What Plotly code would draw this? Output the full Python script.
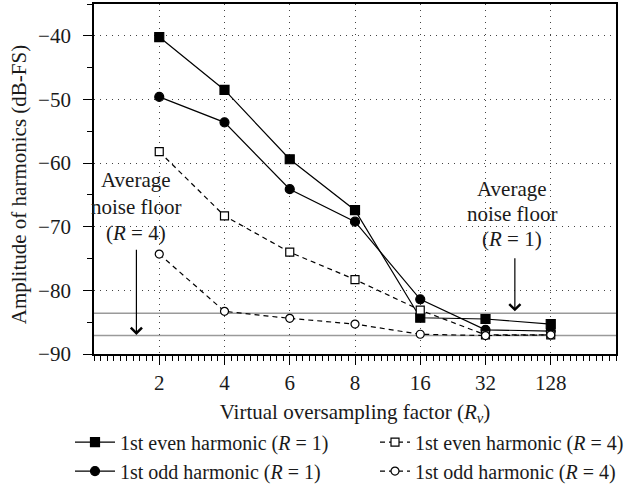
import plotly.graph_objects as go

categories = ["2", "4", "6", "8", "16", "32", "128"]
even_r1 = [-40.2, -48.5, -59.4, -67.4, -84.3, -84.5, -85.3]
odd_r1 = [-49.6, -53.6, -64.1, -69.2, -81.4, -86.2, -86.4]
even_r4 = [-58.2, -68.3, -74.0, -78.3, -83.1, -87.0, -87.0]
odd_r4 = [-74.3, -83.3, -84.4, -85.3, -86.9, -87.1, -87.0]
noise_floor_r1 = -83.6
noise_floor_r4 = -87.1

xpos = list(range(len(categories)))
FONT = "Liberation Serif"
TXT = "#1a1a1a"
FS = 21

fig = go.Figure()

def add(name, y, symbol, filled, dash, legend):
    fig.add_trace(go.Scatter(
        x=xpos, y=y, name=name, mode="lines+markers", legend=legend,
        line=dict(color="black", width=1.2, dash=dash),
        marker=dict(symbol=symbol, size=9 if filled else 8,
                    color="black" if filled else "white",
                    line=dict(color="black", width=1.2)),
    ))

add("1st even harmonic (<i>R</i> = 1)", even_r1, "square", True, "solid", "legend")
add("1st odd harmonic (<i>R</i> = 1)", odd_r1, "circle", True, "solid", "legend")
add("1st even harmonic (<i>R</i> = 4)", even_r4, "square", False, "5px,4px", "legend2")
add("1st odd harmonic (<i>R</i> = 4)", odd_r4, "circle", False, "5px,4px", "legend2")

for yv in (noise_floor_r1, noise_floor_r4):
    fig.add_hline(y=yv, line=dict(color="#9a9a9a", width=1.5), layer="below")

def text_block(lines, x, ys):
    for t, yy in zip(lines, ys):
        fig.add_annotation(x=x, y=yy, xref="x", yref="y", text=t,
                           showarrow=False, font=dict(family=FONT, size=FS, color=TXT))

text_block(["Average", "noise floor", "(<i>R</i> = 4)"], -0.35, [-62.7, -66.9, -71.0])
text_block(["Average", "noise floor", "(<i>R</i> = 1)"], 5.41, [-64.0, -68.0, -72.0])

fig.add_annotation(x=-0.35, y=noise_floor_r4 + 0.1, ax=-0.35, ay=-73.4,
                   xref="x", yref="y", axref="x", ayref="y", text="",
                   showarrow=True, arrowhead=4, arrowsize=1.8, arrowwidth=1.2, arrowcolor="black")
fig.add_annotation(x=5.45, y=noise_floor_r1 + 0.3, ax=5.45, ay=-74.7,
                   xref="x", yref="y", axref="x", ayref="y", text="",
                   showarrow=True, arrowhead=4, arrowsize=1.8, arrowwidth=1.2, arrowcolor="black")

# y-axis title as rotated text
fig.add_annotation(x=-0.1437, y=0.485, xref="paper", yref="paper", text="Amplitude of harmonics (dB-FS)",
                   textangle=-90, showarrow=False, xanchor="center", yanchor="middle",
                   font=dict(family=FONT, size=FS, color=TXT))

legend_common = dict(orientation="v", yanchor="top", y=0.134, yref="container",
                     xanchor="left", xref="container",
                     font=dict(family=FONT, size=20, color=TXT), bgcolor="rgba(0,0,0,0)",
                     traceorder="normal", tracegroupgap=0)

minor_x = [i / 10 for i in range(-10, 71)]

fig.update_layout(
    width=637, height=488,
    margin=dict(l=94, r=21, t=4, b=134, autoexpand=False),
    paper_bgcolor="white", plot_bgcolor="white",
    font=dict(family=FONT, size=FS, color=TXT),
    showlegend=True,
    legend=dict(x=70 / 637, itemwidth=40, **legend_common),
    legend2=dict(x=375 / 637, itemwidth=30, **legend_common),
)

fig.update_xaxes(
    range=[-1, 7], tickmode="array", tickvals=xpos, ticktext=categories,
    showline=True, linecolor="black", linewidth=1.5, mirror=True,
    ticks="outside", ticklen=9, tickwidth=1.2, tickcolor="black",
    ticklabelstandoff=0,
    showgrid=True, gridcolor="#444", griddash="1px,5px", gridwidth=1,
    zeroline=False,
    minor=dict(tickmode="array", tickvals=minor_x, ticks="outside", ticklen=5,
               tickwidth=1, tickcolor="black", showgrid=False),
    title=dict(text="Virtual oversampling factor (<i>R</i><sub><i>v</i></sub>)", standoff=10,
               font=dict(size=FS)),
    tickfont=dict(size=FS),
)
fig.update_yaxes(
    range=[-90, -35], tickmode="linear", tick0=-90, dtick=10,
    showline=True, linecolor="black", linewidth=1.8, mirror=True,
    ticks="outside", ticklen=9, tickwidth=1.2, tickcolor="black",
    ticklabelstandoff=8,
    showgrid=True, gridcolor="#444", griddash="1px,5px", gridwidth=1,
    zeroline=False,
    minor=dict(dtick=5, tick0=-90, ticks="outside", ticklen=5, tickwidth=1,
               tickcolor="black", showgrid=False),
    tickfont=dict(size=FS),
)

fig.write_html("out.html")
